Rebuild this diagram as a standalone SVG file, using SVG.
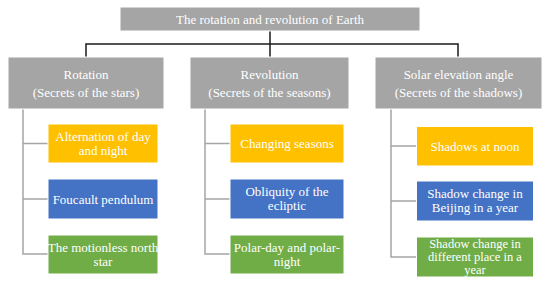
<svg xmlns="http://www.w3.org/2000/svg" width="550" height="285" viewBox="0 0 550 285">
<style>
.t{font-family:"Liberation Serif","Times New Roman",serif;font-size:13px;fill:#ffffff;text-anchor:middle}
.s{font-size:12.5px}
.g{fill:#a5a5a5;stroke:#ffffff;stroke-width:1}
.o{fill:#ffc000;stroke:#ffffff;stroke-width:1}
.b{fill:#4472c4;stroke:#ffffff;stroke-width:1}
.gr{fill:#70ad47;stroke:#ffffff;stroke-width:1}
.k{fill:none;stroke:#1a1a1a;stroke-width:1.5}
.c{fill:none;stroke:#a5a5a5;stroke-width:1.5}
</style>
<rect width="550" height="285" fill="#ffffff"/>
<g id="connectors">
<path class="k" d="M270 31V44M86 57V44H458V57M270 44V57"/>
<path class="c" d="M23 109V254H48M23 143.5H48M23 199H48"/>
<path class="c" d="M205 109V254H230M205 143.5H230M205 199H230"/>
<path class="c" d="M391 109V257H417M391 146H417M391 201H417"/>
</g>
<g id="root"><rect class="g" x="120" y="7" width="300" height="24"/><text class="t" x="270" y="23.5">The rotation and revolution of Earth</text></g>
<g id="rotation"><rect class="g" x="8" y="57" width="156" height="52"/><text class="t" x="86" y="78.5">Rotation</text><text class="t" x="86" y="96.5">(Secrets of the stars)</text></g>
<g id="revolution"><rect class="g" x="190" y="57" width="159" height="52"/><text class="t" x="269.5" y="78.5">Revolution</text><text class="t" x="269.5" y="96.5">(Secrets of the seasons)</text></g>
<g id="solar"><rect class="g" x="375" y="57" width="167" height="52"/><text class="t" x="458.5" y="78.5">Solar elevation angle</text><text class="t" x="458.5" y="96.5">(Secrets of the shadows)</text></g>
<g id="rot1"><rect class="o" x="48" y="124" width="110" height="39"/><text class="t" x="103" y="141">Alternation of day</text><text class="t" x="103" y="154.5">and night</text></g>
<g id="rot2"><rect class="b" x="48" y="179" width="110" height="40"/><text class="t" x="103" y="203.5">Foucault pendulum</text></g>
<g id="rot3"><rect class="gr" x="48" y="235" width="110" height="39"/><text class="t" x="103" y="252">The motionless north</text><text class="t" x="103" y="265.5">star</text></g>
<g id="rev1"><rect class="o" x="230" y="124" width="114" height="39"/><text class="t" x="287" y="148">Changing seasons</text></g>
<g id="rev2"><rect class="b" x="230" y="179" width="114" height="40"/><text class="t" x="287" y="196">Obliquity of the</text><text class="t" x="287" y="209.5">ecliptic</text></g>
<g id="rev3"><rect class="gr" x="230" y="235" width="114" height="39"/><text class="t" x="287" y="252">Polar-day and polar-</text><text class="t" x="287" y="265.5">night</text></g>
<g id="sol1"><rect class="o" x="416.5" y="126.5" width="117" height="39.5"/><text class="t" x="475" y="150.5">Shadows at noon</text></g>
<g id="sol2"><rect class="b" x="416.5" y="181" width="117" height="40"/><text class="t" x="475" y="198">Shadow change in</text><text class="t" x="475" y="211.5">Beijing in a year</text></g>
<g id="sol3"><rect class="gr" x="416.5" y="237" width="117" height="40"/><text class="t s" x="475" y="247.5">Shadow change in</text><text class="t s" x="475" y="260.5">different place in a</text><text class="t s" x="475" y="273.5">year</text></g>
</svg>
